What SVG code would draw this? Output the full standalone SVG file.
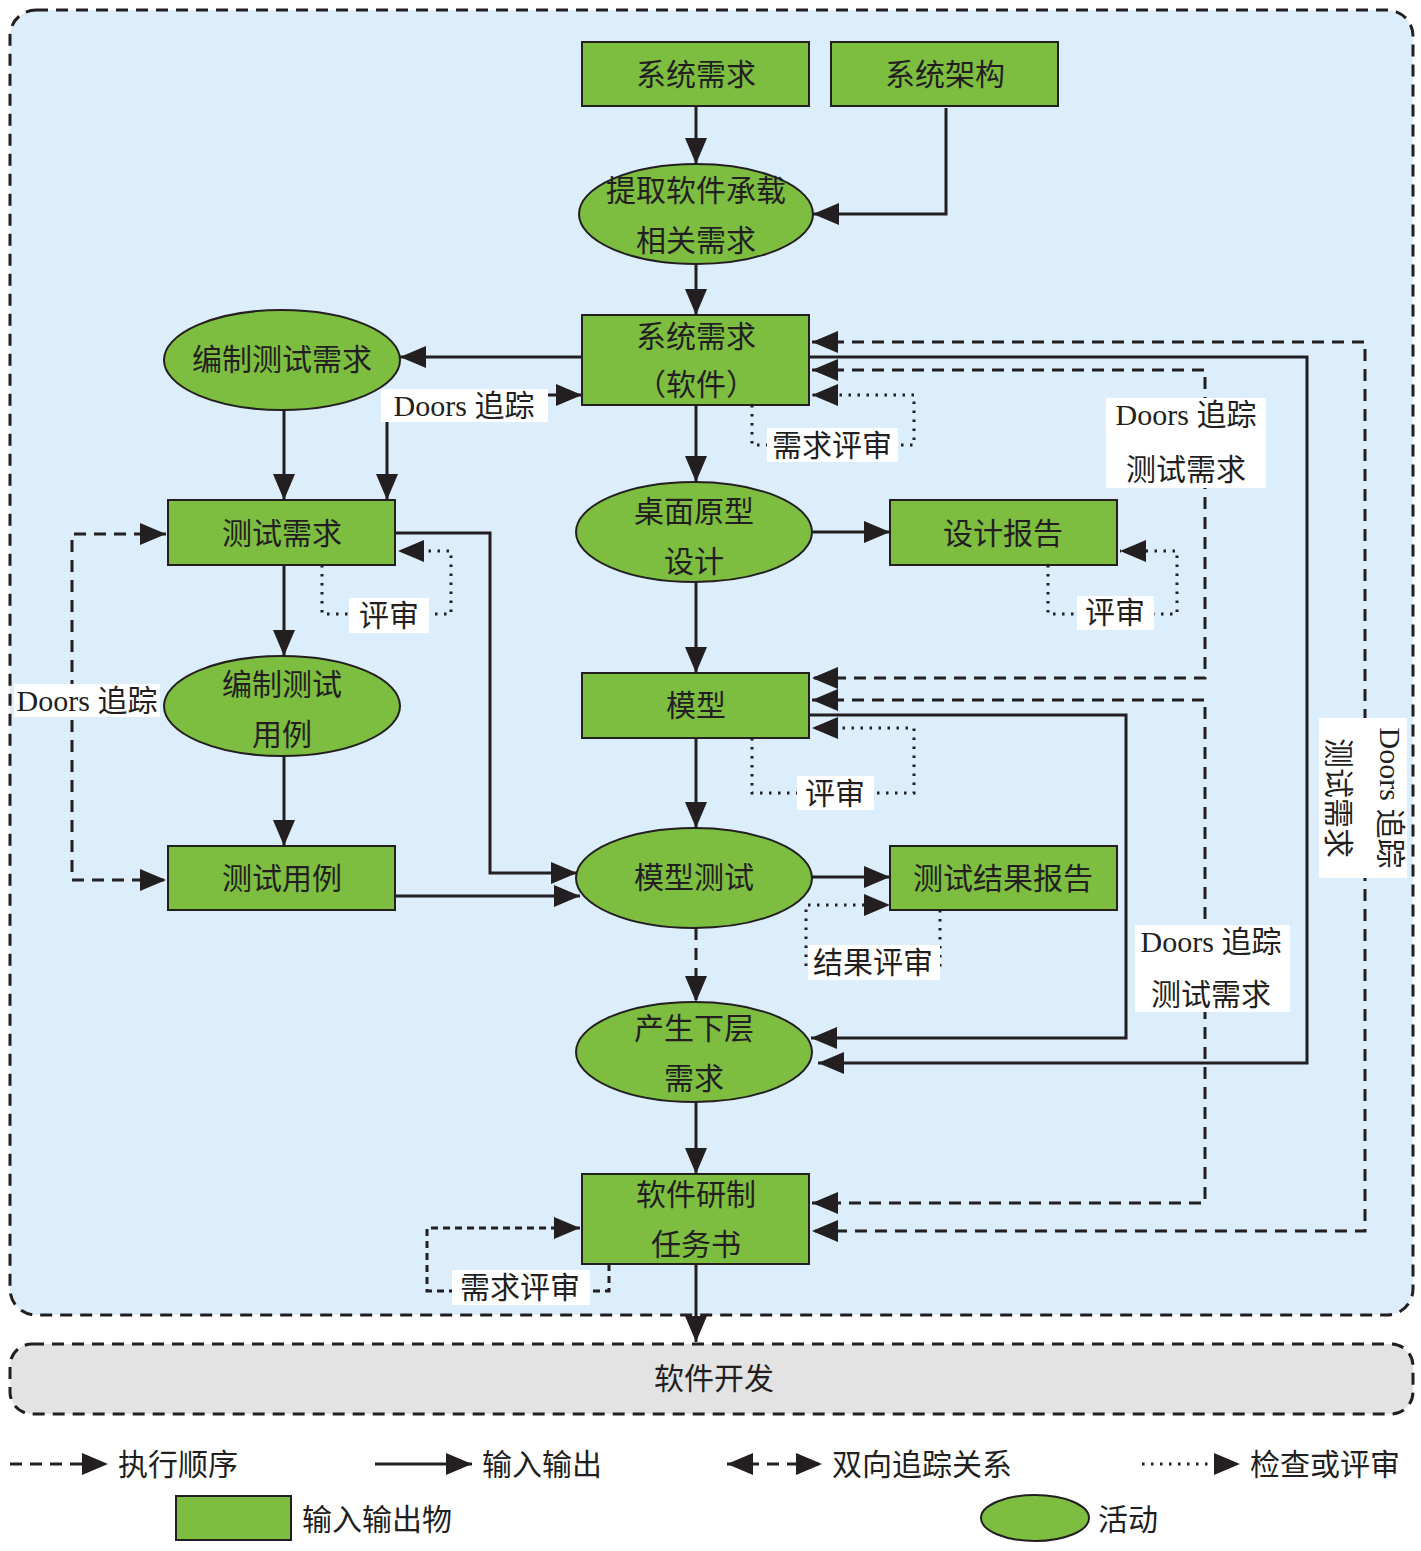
<svg xmlns="http://www.w3.org/2000/svg" width="1421" height="1551" viewBox="0 0 1421 1551">
<style>
text{font-family:"Liberation Serif","Noto Sans CJK SC",serif;font-size:30px;fill:#231f20;dominant-baseline:central}
.c{text-anchor:middle}
.box{fill:#7dbd3f;stroke:#231f20;stroke-width:2}
.lbl{fill:#ffffff;stroke:none}
.ln{fill:none;stroke:#231f20;stroke-width:3}
.da{stroke-dasharray:12 8}
.dt{stroke-dasharray:2.5 6.5}
.fd{stroke-dasharray:7 5}
</style>
<defs>
<marker id="ah" markerUnits="userSpaceOnUse" markerWidth="27" markerHeight="24" refX="26" refY="12" orient="auto-start-reverse" viewBox="0 0 27 24">
<path d="M0,1 L26,12 L0,23 z" fill="#231f20"/>
</marker>
</defs>
<rect x="10" y="10" width="1403" height="1305" rx="26" fill="#dcedfb" stroke="#231f20" stroke-width="3" stroke-dasharray="12 8"/>
<rect x="10" y="1344" width="1403" height="70" rx="22" fill="#e3e3e3" stroke="#231f20" stroke-width="3" stroke-dasharray="12 8"/>
<text class="c" x="714" y="1378">软件开发</text>

<g id="connectors">
<path class="ln" d="M696,106 V164" marker-end="url(#ah)"/>
<path class="ln" d="M946,108 V214 H813" marker-end="url(#ah)"/>
<path class="ln" d="M696,264 V315" marker-end="url(#ah)"/>
<path class="ln" d="M582,357 H400" marker-end="url(#ah)"/>
<path class="ln" d="M284,410 V500" marker-end="url(#ah)"/>
<path class="ln" d="M284,565 V656" marker-end="url(#ah)"/>
<path class="ln" d="M284,756 V846" marker-end="url(#ah)"/>
<path class="ln" d="M395,533 H490 V873 H577" marker-end="url(#ah)"/>
<path class="ln" d="M395,896 H580" marker-end="url(#ah)"/>
<path class="ln" d="M696,405 V482" marker-end="url(#ah)"/>
<path class="ln" d="M812,532 H890" marker-end="url(#ah)"/>
<path class="ln" d="M696,582 V673" marker-end="url(#ah)"/>
<path class="ln" d="M696,738 V828" marker-end="url(#ah)"/>
<path class="ln" d="M812,877 H890" marker-end="url(#ah)"/>
<path class="ln" d="M809,715 H1126 V1038 H811" marker-end="url(#ah)"/>
<path class="ln" d="M809,357 H1307 V1063 H818" marker-end="url(#ah)"/>
<path class="ln" d="M696,1102 V1174" marker-end="url(#ah)"/>
<path class="ln" d="M696,1264 V1342" marker-end="url(#ah)"/>
<path class="ln da" d="M696,928 V1002" marker-end="url(#ah)"/>
<path class="ln" d="M582,395 H387 V500" marker-start="url(#ah)" marker-end="url(#ah)"/>
<path class="ln da" d="M166,534 H72 V880 H166" marker-start="url(#ah)" marker-end="url(#ah)"/>
<path class="ln da" d="M812,370 H1205 V678 H812" marker-start="url(#ah)" marker-end="url(#ah)"/>
<path class="ln da" d="M812,700 H1205 V1203 H812" marker-start="url(#ah)" marker-end="url(#ah)"/>
<path class="ln da" d="M812,342 H1365 V1231 H812" marker-start="url(#ah)" marker-end="url(#ah)"/>
<path class="ln dt" d="M752,405 V445 H914 V395 H812" marker-end="url(#ah)"/>
<path class="ln dt" d="M322,565 V614 H451 V551 H398" marker-end="url(#ah)"/>
<path class="ln dt" d="M1048,565 V614 H1177 V551 H1120" marker-end="url(#ah)"/>
<path class="ln dt" d="M752,738 V793 H914 V728 H812" marker-end="url(#ah)"/>
<path class="ln dt" d="M940,910 V970 H806 V905 H890" marker-end="url(#ah)"/>
<path class="ln fd" d="M609,1264 V1291 H427 V1228 H580" marker-end="url(#ah)"/>
</g>

<g id="labels">
<rect class="lbl" x="381" y="389" width="167" height="33"/>
<text class="c" x="464" y="405">Doors 追踪</text>
<rect class="lbl" x="767" y="428" width="131" height="34"/>
<text class="c" x="832" y="445">需求评审</text>
<rect class="lbl" x="1106" y="398" width="160" height="90"/>
<text class="c" x="1186" y="414">Doors 追踪</text>
<text class="c" x="1186" y="469">测试需求</text>
<rect class="lbl" x="349" y="598" width="80" height="35"/>
<text class="c" x="389" y="615">评审</text>
<rect class="lbl" x="1077" y="596" width="77" height="34"/>
<text class="c" x="1115" y="612">评审</text>
<rect class="lbl" x="14" y="684" width="146" height="33"/>
<text class="c" x="87" y="700">Doors 追踪</text>
<rect class="lbl" x="797" y="776" width="77" height="34"/>
<text class="c" x="835" y="793">评审</text>
<rect class="lbl" x="808" y="945" width="132" height="35"/>
<text class="c" x="873" y="962">结果评审</text>
<rect class="lbl" x="1135" y="925" width="155" height="87"/>
<text class="c" x="1211" y="941">Doors 追踪</text>
<text class="c" x="1211" y="994">测试需求</text>
<rect class="lbl" x="452" y="1270" width="138" height="35"/>
<text class="c" x="520" y="1287">需求评审</text>
<rect class="lbl" x="1319" y="718" width="88" height="160"/>
<text class="c" transform="translate(1390,798) rotate(90)" x="0" y="0">Doors 追踪</text>
<text class="c" transform="translate(1338,798) rotate(90)" x="0" y="0">测试需求</text>
</g>

<g id="n-sysreq"><rect class="box" x="582" y="42" width="227" height="64"/><text class="c" x="696" y="74">系统需求</text></g>
<g id="n-sysarch"><rect class="box" x="831" y="42" width="227" height="64"/><text class="c" x="945" y="74">系统架构</text></g>
<g id="n-extract"><ellipse class="box" cx="696" cy="214" rx="117" ry="50"/><text class="c" x="696" y="190">提取软件承载</text><text class="c" x="696" y="240">相关需求</text></g>
<g id="n-swreq"><rect class="box" x="582" y="315" width="227" height="90"/><text class="c" x="696" y="336">系统需求</text><text class="c" x="696" y="384">（软件）</text></g>
<g id="n-mktestreq"><ellipse class="box" cx="282" cy="360" rx="118" ry="50"/><text class="c" x="282" y="359">编制测试需求</text></g>
<g id="n-testreq"><rect class="box" x="168" y="500" width="227" height="65"/><text class="c" x="282" y="533">测试需求</text></g>
<g id="n-mkcase"><ellipse class="box" cx="282" cy="706" rx="118" ry="50"/><text class="c" x="282" y="684">编制测试</text><text class="c" x="282" y="734">用例</text></g>
<g id="n-case"><rect class="box" x="168" y="846" width="227" height="64"/><text class="c" x="282" y="878">测试用例</text></g>
<g id="n-proto"><ellipse class="box" cx="694" cy="532" rx="118" ry="50"/><text class="c" x="694" y="511">桌面原型</text><text class="c" x="694" y="561">设计</text></g>
<g id="n-design"><rect class="box" x="890" y="500" width="227" height="65"/><text class="c" x="1003" y="533">设计报告</text></g>
<g id="n-model"><rect class="box" x="582" y="673" width="227" height="65"/><text class="c" x="696" y="705">模型</text></g>
<g id="n-modeltest"><ellipse class="box" cx="694" cy="878" rx="118" ry="50"/><text class="c" x="694" y="877">模型测试</text></g>
<g id="n-result"><rect class="box" x="890" y="846" width="227" height="64"/><text class="c" x="1003" y="878">测试结果报告</text></g>
<g id="n-lower"><ellipse class="box" cx="694" cy="1052" rx="118" ry="50"/><text class="c" x="694" y="1028">产生下层</text><text class="c" x="694" y="1078">需求</text></g>
<g id="n-task"><rect class="box" x="582" y="1174" width="227" height="90"/><text class="c" x="696" y="1194">软件研制</text><text class="c" x="696" y="1244">任务书</text></g>

<g id="legend">
<path class="ln da" d="M10,1464 H108" marker-end="url(#ah)"/>
<text x="118" y="1464">执行顺序</text>
<path class="ln" d="M375,1464 H472" marker-end="url(#ah)"/>
<text x="482" y="1464">输入输出</text>
<path class="ln da" d="M727,1464 H822" stroke-dasharray="8 8" marker-start="url(#ah)" marker-end="url(#ah)"/>
<text x="832" y="1464">双向追踪关系</text>
<path class="ln dt" d="M1142,1464 H1240" marker-end="url(#ah)"/>
<text x="1250" y="1464">检查或评审</text>
<rect class="box" x="176" y="1496" width="115" height="44"/>
<text x="302" y="1519">输入输出物</text>
<ellipse class="box" cx="1035" cy="1518" rx="54" ry="23"/>
<text x="1098" y="1519">活动</text>
</g>
</svg>
